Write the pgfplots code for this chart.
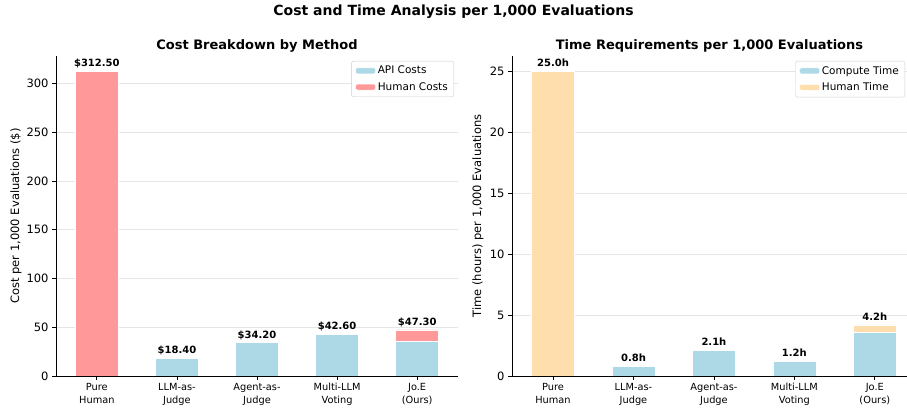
\documentclass[border=0pt]{standalone}
\usepackage{fontspec}
\setmainfont{DejaVu Sans}
\usepackage{pgfplots}
\pgfplotsset{compat=1.18}
\definecolor{apiblue}{RGB}{173,216,230}
\definecolor{humanred}{RGB}{255,153,153}
\definecolor{humantime}{RGB}{255,222,173}
\pgfplotsset{
  base/.style={
    scale only axis, height=320bp, anchor=south west,
    axis lines*=left,
    axis line style={black, line width=0.8bp},
    ybar stacked, bar width=43bp,
    ymin=0, enlargelimits=false,
    xtick={0,1,2,3,4},
    xticklabels={Pure\\Human, LLM-as-\\Judge, Agent-as-\\Judge, Multi-LLM\\Voting, Jo.E\\(Ours)},
    xticklabel style={align=center, font=\fontsize{9.8bp}{13bp}\selectfont},
    yticklabel style={font=\fontsize{11.5bp}{13bp}\selectfont},
    /pgf/number format/assume math mode=true,
    tick align=outside, major tick length=4bp,
    tick style={black, line width=0.8bp},
    ymajorgrids, grid style={gray!20, line width=0.6bp},
    ylabel style={font=\fontsize{11.5bp}{13bp}\selectfont, anchor=center},
    title style={font=\bfseries\fontsize{13bp}{15bp}\selectfont, at={(0.5,1)}, anchor=south, yshift=-6bp},
    legend style={at={(1,1)}, anchor=north east, yshift=-5bp, draw=gray!40,
      rounded corners=2bp, font=\fontsize{10.5bp}{12bp}\selectfont, inner xsep=4bp, inner ysep=3bp, row sep=3bp},
    legend cell align=left,
    legend image code/.code={\fill[##1] (0bp,-3bp) rectangle (20bp,3bp);},
  },
  lab/.style={
    scale only axis, height=320bp, anchor=south west, hide axis, clip=false,
    ymin=0, enlargelimits=false,
  }
}
\begin{document}
\begin{tikzpicture}
\path[use as bounding box] (0,0) rectangle (907bp,412bp);
\node[font=\bfseries\fontsize{14bp}{16bp}\selectfont] at (453.5bp,400bp) {Cost and Time Analysis per 1,000 Evaluations};
\begin{axis}[base, at={(56bp,36bp)}, width=402bp, xmin=-0.51, xmax=4.51, ymax=328.1,
  ytick={0,50,100,150,200,250,300},
  ylabel={Cost per 1,000 Evaluations (\$)},
  ylabel style={at={(axis description cs:-0.0995,0.5)}},
  legend style={xshift=-4bp},
  title={Cost Breakdown by Method}]
\addplot[fill=apiblue, draw=white] coordinates {(0,0) (1,18.4) (2,34.2) (3,42.6) (4,35.5)};
\addlegendentry{API Costs}
\addplot[fill=humanred, draw=white] coordinates {(0,312.5) (1,0) (2,0) (3,0) (4,11.8)};
\addlegendentry{Human Costs}
\end{axis}
\begin{axis}[lab, at={(56bp,36bp)}, width=402bp, xmin=-0.51, xmax=4.51, ymax=328.1]
\addplot[draw=none, mark=none, nodes near coords, point meta=explicit symbolic,
  every node near coord/.style={font=\bfseries\fontsize{10bp}{12bp}\selectfont, anchor=base, inner sep=0pt, yshift=4.5bp}]
  coordinates {(0,312.5) [\$312.50] (1,18.4) [\$18.40] (2,34.2) [\$34.20] (3,42.6) [\$42.60] (4,47.3) [\$47.30]};
\end{axis}
\begin{axis}[base, at={(512bp,36bp)}, width=395bp, xmin=-0.51, xmax=4.40, ymax=26.25,
  ytick={0,5,10,15,20,25},
  ylabel={Time (hours) per 1,000 Evaluations},
  ylabel style={at={(axis description cs:-0.086,0.5)}},
  legend style={xshift=-2bp},
  title={Time Requirements per 1,000 Evaluations}]
\addplot[fill=apiblue, draw=white] coordinates {(0,0) (1,0.8) (2,2.1) (3,1.2) (4,3.6)};
\addlegendentry{Compute Time}
\addplot[fill=humantime, draw=white] coordinates {(0,25) (1,0) (2,0) (3,0) (4,0.6)};
\addlegendentry{Human Time}
\end{axis}
\begin{axis}[lab, at={(512bp,36bp)}, width=395bp, xmin=-0.51, xmax=4.40, ymax=26.25]
\addplot[draw=none, mark=none, nodes near coords, point meta=explicit symbolic,
  every node near coord/.style={font=\bfseries\fontsize{10bp}{12bp}\selectfont, anchor=base, inner sep=0pt, yshift=4.5bp}]
  coordinates {(0,25) [25.0h] (1,0.8) [0.8h] (2,2.1) [2.1h] (3,1.2) [1.2h] (4,4.2) [4.2h]};
\end{axis}
\end{tikzpicture}
\end{document}
